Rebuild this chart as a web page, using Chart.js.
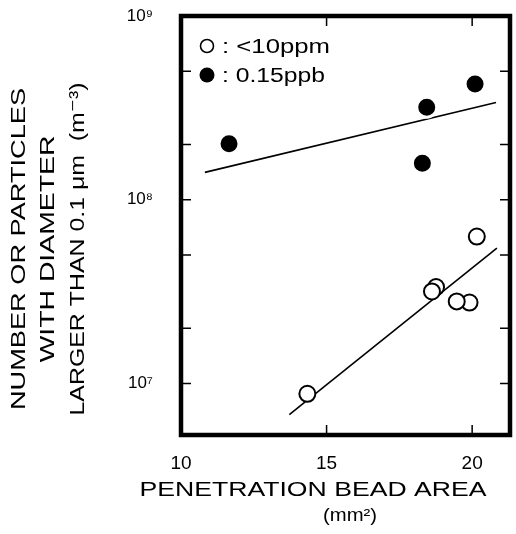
<!DOCTYPE html>
<html>
<head>
<meta charset="utf-8">
<script src="https://cdn.jsdelivr.net/npm/chart.js@4.4.1/dist/chart.umd.min.js"></script>
<style>
  html, body { margin: 0; padding: 0; background: #fff; overflow: hidden; }
  canvas { display: block; }
</style>
</head>
<body>
<canvas id="chart" width="516" height="534"></canvas>
<script>
// series: <10ppm (open circles)
const lowLabel = '<10ppm';
const lowArea = [20.16, 19.91, 19.47, 18.76, 18.62, 14.34];
const lowCount = [6.31e7, 2.76e7, 2.80e7, 3.35e7, 3.17e7, 8.8e6];
const lowFitArea = [13.72, 20.85];
const lowFitCount = [6.77e6, 5.46e7];

// series: 0.15ppb (filled circles)
const highLabel = '0.15ppb';
const highArea = [11.65, 18.44, 18.29, 20.10];
const highCount = [2.02e8, 3.19e8, 1.58e8, 4.26e8];
const highFitArea = [10.82, 20.82];
const highFitCount = [1.41e8, 3.38e8];

// axes
const xTicks = [10, 15, 20];
const yTicks = [1e7, 2e7, 5e7, 1e8, 2e8, 5e8, 1e9];
const yTickLabels = { 1e7: '10⁷', 1e8: '10⁸', 1e9: '10⁹' };
const xTitle = 'PENETRATION BEAD AREA';
const xUnit = '(mm²)';
const yTitle = ['NUMBER OR PARTICLES', 'WITH DIAMETER', 'LARGER THAN 0.1 μm  (m⁻³)'];

const toPts = (xs, ys) => xs.map((x, i) => ({ x: x, y: ys[i] }));

const FONT = "'Liberation Sans', 'DejaVu Sans', sans-serif";
const RIGHT_GAP = 6;

// stretch a string so it fills a given width
function fitText(ctx, text, x, y, width) {
  const w = ctx.measureText(text).width;
  ctx.save();
  ctx.translate(x, y);
  ctx.scale(width / w, 1);
  ctx.fillText(text, 0, 0);
  ctx.restore();
}

const framePlugin = {
  id: 'frame',
  // the x label overflow eats into the right side; push the box back out
  afterLayout(chart) {
    const a = chart.chartArea;
    const target = chart.width - RIGHT_GAP;
    if (Math.abs(a.right - target) > 0.5) {
      a.right = target;
      a.width = a.right - a.left;
      const x = chart.scales.x;
      x.right = target;
      x.width = x.right - x.left;
      x.configure();
    }
  },
  afterDatasetsDraw(chart) {
    const { ctx, chartArea: a, scales } = chart;
    ctx.save();
    ctx.strokeStyle = '#000';
    // inward ticks on all four sides
    ctx.lineWidth = 1.5;
    const len = 10;
    scales.y.ticks.forEach(t => {
      const py = scales.y.getPixelForValue(t.value);
      if (py <= a.top + 2 || py >= a.bottom - 2) return;
      ctx.beginPath();
      ctx.moveTo(a.left, py); ctx.lineTo(a.left + len, py);
      ctx.moveTo(a.right, py); ctx.lineTo(a.right - len, py);
      ctx.stroke();
    });
    scales.x.ticks.forEach(t => {
      const px = scales.x.getPixelForValue(t.value);
      if (px <= a.left + 2 || px >= a.right - 2) return;
      ctx.beginPath();
      ctx.moveTo(px, a.bottom); ctx.lineTo(px, a.bottom - len);
      ctx.moveTo(px, a.top); ctx.lineTo(px, a.top + len);
      ctx.stroke();
    });
    // heavy box
    ctx.lineWidth = 4.5;
    ctx.strokeRect(a.left, a.top, a.right - a.left, a.bottom - a.top);

    // legend in the upper left corner
    const sets = chart.data.datasets.filter(d => d.legend);
    const textW = [108, 103];
    ctx.font = '20px ' + FONT;
    ctx.textBaseline = 'middle';
    ctx.textAlign = 'left';
    ctx.fillStyle = '#000';
    sets.forEach((d, i) => {
      const cy = 46 + i * 29;
      const cx = 207;
      ctx.beginPath();
      if (d.filled) { ctx.arc(cx, cy, 7.5, 0, Math.PI * 2); ctx.fill(); }
      else { ctx.arc(cx, cy, 6.5, 0, Math.PI * 2); ctx.lineWidth = 1.6; ctx.stroke(); }
      fitText(ctx, ': ' + d.label, 222, cy + 1, textW[i]);
    });
    ctx.restore();
  },
  afterDraw(chart) {
    const { ctx } = chart;
    ctx.save();
    ctx.fillStyle = '#000';
    ctx.textAlign = 'center';
    ctx.textBaseline = 'middle';
    ctx.font = '21px ' + FONT;
    fitText(ctx, xTitle, 313, 490, 347);
    ctx.font = '18px ' + FONT;
    fitText(ctx, xUnit, 350, 516, 54);
    ctx.font = '21px ' + FONT;
    const cols = [19, 48, 78];
    const widths = [322, 227, 333];
    yTitle.forEach((line, i) => {
      ctx.save();
      ctx.translate(cols[i], 249);
      ctx.rotate(-Math.PI / 2);
      fitText(ctx, line, 0, 0, widths[i]);
      ctx.restore();
    });
    ctx.restore();
  }
};

// hidden tick marks push the labels away from the frame
const hiddenGrid = len => ({
  display: true, drawOnChartArea: false, drawTicks: true,
  tickLength: len, color: 'rgba(0,0,0,0)'
});

new Chart(document.getElementById('chart'), {
  type: 'scatter',
  data: {
    datasets: [
      {
        label: 'fit ' + highLabel,
        type: 'line',
        data: toPts(highFitArea, highFitCount),
        borderColor: '#000', borderWidth: 1.6,
        pointRadius: 0, fill: false, order: 5
      },
      {
        label: 'fit ' + lowLabel,
        type: 'line',
        data: toPts(lowFitArea, lowFitCount),
        borderColor: '#000', borderWidth: 1.6,
        pointRadius: 0, fill: false, order: 5
      },
      {
        label: lowLabel, legend: true, filled: false,
        data: toPts(lowArea, lowCount),
        pointRadius: 8, pointBorderWidth: 2,
        pointBackgroundColor: '#fff', pointBorderColor: '#000', order: 1
      },
      {
        label: highLabel, legend: true, filled: true,
        data: toPts(highArea, highCount),
        pointRadius: 10, pointBorderWidth: 3,
        pointBackgroundColor: '#000', pointBorderColor: '#fff', order: 1
      }
    ]
  },
  options: {
    responsive: false,
    animation: false,
    devicePixelRatio: 1,
    layout: { padding: { top: 16, right: RIGHT_GAP, left: 0, bottom: 0 } },
    plugins: { legend: { display: false }, tooltip: { enabled: false } },
    scales: {
      x: {
        type: 'linear', min: 10, max: 21.3,
        afterBuildTicks: axis => { axis.ticks = xTicks.map(v => ({ value: v })); },
        afterFit: axis => { axis.height = 99; },
        grid: hiddenGrid(15),
        border: { display: false },
        ticks: {
          autoSkip: false, padding: 2, color: '#000', maxRotation: 0,
          font: { family: "'Liberation Sans Narrow', " + FONT, size: 19 }
        }
      },
      y: {
        type: 'logarithmic', min: 5.25e6, max: 1e9,
        afterBuildTicks: axis => { axis.ticks = yTicks.map(v => ({ value: v })); },
        afterFit: axis => { axis.width = 181; },
        grid: hiddenGrid(26),
        border: { display: false },
        ticks: {
          autoSkip: false, padding: 2, color: '#000',
          font: { family: "'Liberation Sans Narrow', " + FONT, size: 17 },
          callback: v => yTickLabels[v] || ''
        }
      }
    }
  },
  plugins: [framePlugin]
});
</script>
</body>
</html>
